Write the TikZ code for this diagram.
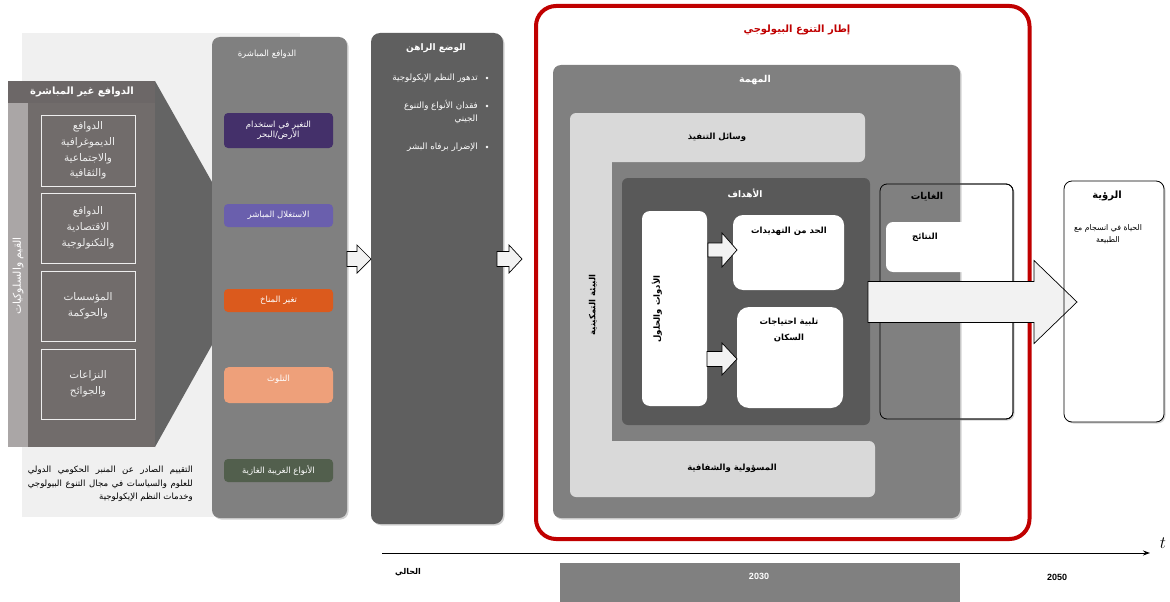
\documentclass[tikz,border=0pt]{standalone}
\usepackage{fontspec}
\setmainfont{Liberation Sans}
\newfontfamily\arabicfont[Script=Arabic]{DejaVu Sans}
\TeXXeTstate=1
\usetikzlibrary{shadows,arrows.meta}
\newcommand{\ar}[1]{{\arabicfont\beginR #1\endR}}
\newcommand{\fs}[1]{\fontsize{#1}{#1}\selectfont}
\definecolor{lightbg}{HTML}{F0F0F0}
\definecolor{indbody}{HTML}{716C6B}
\definecolor{indhead}{HTML}{6C6767}
\definecolor{stripc}{HTML}{AAA6A6}
\definecolor{funnelc}{HTML}{646464}
\definecolor{midgray}{HTML}{808080}
\definecolor{statusc}{HTML}{5F5F5F}
\definecolor{goalc}{HTML}{595959}
\definecolor{enabc}{HTML}{D9D9D9}
\definecolor{framered}{HTML}{C00000}
\definecolor{purplec}{HTML}{44306A}
\definecolor{violetc}{HTML}{6A5FAD}
\definecolor{orangec}{HTML}{DB5A1D}
\definecolor{salmonc}{HTML}{EEA07A}
\definecolor{greenc}{HTML}{525F4D}
\definecolor{arrowc}{HTML}{F2F2F2}
\definecolor{softwhite}{HTML}{EEEEEE}
\newcommand{\rbox}[6]{\node[rb,#6,minimum width={#4-#2},minimum height={#5-#3}] (#1) at (#2,#3) {};}
\newcommand{\barrow}[7]{\draw[#7] (#1,{#4-#5}) -- (#2,{#4-#5}) -- (#2,{#4-#6}) -- (#3,#4) -- (#2,{#4+#6}) -- (#2,{#4+#5}) -- (#1,{#4+#5}) -- cycle;}
\begin{document}
\begin{tikzpicture}[x=1pt,y=-1pt,
  rb/.style={anchor=north west,inner sep=0pt,outer sep=0pt},
  shad/.style={drop shadow={shadow xshift=1.5pt,shadow yshift=-1.5pt,opacity=0.35}},
  indbox/.style={draw=softwhite,line width=1pt},
  lbl/.style={inner sep=0pt,align=center},
  wt/.style={lbl,text=white},
  bk/.style={lbl,text=black},
  barr/.style={fill=arrowc,draw=black,line width=0.7pt,line join=miter},
  dot/.style={circle,fill=white,inner sep=0pt,minimum size=2.8pt}]
\useasboundingbox (0,0) rectangle (1170,602);
\fill[white] (0,0) rectangle (1170,602);

% ---------- indirect drivers ----------
\fill[lightbg] (22,33) rectangle (300,517);
\fill[funnelc] (155,81) -- (212,182) -- (212,345) -- (155,447) -- cycle;
\fill[indbody] (8,81) rectangle (155,447);
\fill[indhead] (8,81) rectangle (155,103);
\fill[stripc] (8,103) rectangle (28,447);
\node[wt,font=\bfseries\fs{10}] (indtitle) at (82,92) {\ar{الدوافع غير المباشرة}};
\node[wt,rotate=90,font=\fs{10.8}] (values) at (18,276) {\ar{القيم والسلوكيات}};
\rbox{ib1}{41}{115}{135}{186}{indbox}
\rbox{ib2}{41}{193}{135}{263}{indbox}
\rbox{ib3}{41}{271}{135}{341}{indbox}
\rbox{ib4}{41}{349}{135}{419}{indbox}
\node[lbl,text=softwhite,font=\fontsize{10.5}{15.8}\selectfont] at (ib1.center) {\ar{الدوافع}\\\ar{الديموغرافية}\\\ar{والاجتماعية}\\\ar{والثقافية}};
\node[lbl,text=softwhite,font=\fontsize{10.5}{16}\selectfont] at (ib2.center) {\ar{الدوافع}\\\ar{الاقتصادية}\\\ar{والتكنولوجية}};
\node[lbl,text=softwhite,font=\fontsize{10.5}{16.5}\selectfont] at (ib3.center) {\ar{المؤسسات}\\\ar{والحوكمة}};
\node[lbl,text=softwhite,font=\fontsize{10.5}{16.5}\selectfont] at (ib4.center) {\ar{النزاعات}\\\ar{والجوائح}};
\node[inner sep=0pt,anchor=north east,align=left,font=\fontsize{8.6}{13.5}\selectfont] (caption) at (193,466)
  {\hbox to 165pt{\ar{التقييم الصادر عن المنبر الحكومي الدولي}}\\
   \hbox to 165pt{\ar{للعلوم والسياسات في مجال التنوع البيولوجي}}\\
   \hbox to 165pt{\hfill\ar{وخدمات النظم الإيكولوجية}}};

% ---------- direct drivers ----------
\rbox{direct}{212}{37}{347}{518}{fill=midgray,rounded corners=8pt,shad}
\node[wt,font=\fs{8.5}] (dirtitle) at (267,54) {\ar{الدوافع المباشرة}};
\rbox{d1}{224}{113}{333}{148}{fill=purplec,rounded corners=4pt}
\node[wt,font=\fontsize{8.5}{10.5}\selectfont] at (d1.center) {\ar{التغير في استخدام}\\\ar{الأرض/البحر}};
\rbox{d2}{224}{204}{333}{227}{fill=violetc,rounded corners=4pt}
\node[wt,font=\fs{8.5}] at (d2.center) {\ar{الاستغلال المباشر}};
\rbox{d3}{224}{289}{333}{312}{fill=orangec,rounded corners=4pt}
\node[wt,font=\fs{8.5}] at (d3.center) {\ar{تغير المناخ}};
\rbox{d4}{224}{367}{333}{403}{fill=salmonc,rounded corners=5pt}
\node[wt,font=\fs{8.5}] (d4t) at (278.5,379) {\ar{التلوث}};
\rbox{d5}{224}{459}{333}{482}{fill=greenc,rounded corners=4pt}
\node[wt,font=\fs{8.5}] at (d5.center) {\ar{الأنواع الغريبة الغازية}};

% ---------- current status ----------
\rbox{status}{371}{33}{503}{524}{fill=statusc,rounded corners=9pt,shad}
\node[wt,font=\bfseries\fs{9}] (sttitle) at (436,48) {\ar{الوضع الراهن}};
\node[dot] (b1) at (487,78) {};
\node[dot] (b2) at (487,106) {};
\node[dot] (b3) at (487,147) {};
\node[wt,anchor=east,font=\fs{8.7}] (s1) at (478,78) {\ar{تدهور النظم الإيكولوجية}};
\node[wt,anchor=north east,align=right,font=\fontsize{8.7}{12.5}\selectfont] (s2) at (478,100) {\ar{فقدان الأنواع والتنوع}\\\ar{الجيني}};
\node[wt,anchor=east,font=\fs{8.7}] (s3) at (478,147) {\ar{الإضرار برفاه البشر}};

% block arrows between panels
\barrow{347}{357}{371}{259}{7.5}{14}{barr}
\barrow{497}{509}{522}{259}{7.5}{14}{barr}

% ---------- biodiversity framework ----------
\rbox{frame}{536}{6}{1029.5}{539}{draw=framered,line width=4pt,rounded corners=20pt}
\node[lbl,text=framered,font=\bfseries\fs{10}] (frtitle) at (797,30) {\ar{إطار التنوع البيولوجي}};

% outcomes box (under mission)
\rbox{outc}{880}{184}{1013}{419}{fill=white,draw=black,line width=0.8pt,rounded corners=7pt,shad}

% mission
\rbox{mission}{553}{65}{960}{518}{fill=midgray,rounded corners=8pt,shad}
\node[wt,font=\bfseries\fs{9.5}] (mtitle) at (755,80) {\ar{المهمة}};

% outcomes border on top
\draw[black,line width=0.8pt,rounded corners=7pt] (880,184) rectangle (1013,419);
\node[bk,font=\bfseries\fs{9.5}] (outtitle) at (927,197) {\ar{الغايات}};
\rbox{results}{886}{222}{1006}{272}{fill=white,rounded corners=7pt}
\node[bk,font=\bfseries\fs{8.5}] (restitle) at (925,237) {\ar{النتائج}};

% enabling environment
\rbox{enabtop}{570}{113}{865}{162}{fill=enabc,rounded corners=6pt}
\rbox{enabbot}{570}{441}{875}{497}{fill=enabc,rounded corners=6pt}
\rbox{enableft}{570}{125}{612}{485}{fill=enabc}
\node[bk,font=\bfseries\fs{8.5}] (means) at (717,137) {\ar{وسائل التنفيذ}};
\node[bk,font=\bfseries\fs{8.5}] (account) at (732,468) {\ar{المسؤولية والشفافية}};
\node[bk,rotate=90,font=\bfseries\fs{8.5}] (enabtxt) at (593,305) {\ar{البيئة التمكينية}};

% goals
\rbox{goals}{622}{178}{870}{425}{fill=goalc,rounded corners=6pt,shad}
\node[wt,font=\bfseries\fs{9}] (gtitle) at (745,193) {\ar{الأهداف}};
\rbox{tools}{642}{211}{707}{406}{fill=white,rounded corners=8pt}
\node[bk,rotate=90,font=\bfseries\fs{8.5}] (toolstxt) at (657,309) {\ar{الأدوات والحلول}};
\rbox{threats}{733}{215}{844}{290}{fill=white,rounded corners=10pt}
\node[bk,font=\bfseries\fs{8.5}] (thrtxt) at (789,231) {\ar{الحد من التهديدات}};
\rbox{needs}{737}{307}{843}{408}{fill=white,rounded corners=12pt}
\node[bk,anchor=north,font=\bfseries\fontsize{8.5}{16}\selectfont] (needstxt) at (789,318) {\ar{تلبية احتياجات}\\\ar{السكان}};
\barrow{708}{722}{737}{250}{7}{17}{barr}
\barrow{707}{722}{737}{359}{7.5}{16}{barr}

% vision
\rbox{vision}{1064}{181}{1164}{422}{fill=white,rounded corners=8pt,shad}
% big arrow
\barrow{868}{1034}{1077}{302}{20.5}{41.5}{barr}
\draw[black,line width=0.8pt,rounded corners=8pt] (1064,181) rectangle (1164,422);
\node[bk,font=\bfseries\fs{10}] (vtitle) at (1107,196) {\ar{الرؤية}};
\node[bk,font=\fontsize{7.8}{12}\selectfont] (vtxt) at (1108,234) {\ar{الحياة في انسجام مع}\\\ar{الطبيعة}};

% ---------- timeline ----------
\coordinate (t0) at (382,553);
\coordinate (t1) at (1150,553);
\draw[line width=1pt,-{Stealth[length=7pt,width=5pt]}] (t0) -- (t1);
\node[lbl,font=\fontsize{17}{17}\selectfont] (tlab) at (1163,543) {$t$};
\node[bk,font=\bfseries\fs{8}] (now) at (408,572) {\ar{الحالي}};
\rbox{band}{560}{563}{960}{602}{fill=midgray}
\node[wt,font=\bfseries\fs{9}] (y2030) at (759,576) {2030};
\node[bk,font=\bfseries\fs{9}] (y2050) at (1057,577) {2050};
\end{tikzpicture}
\end{document}
